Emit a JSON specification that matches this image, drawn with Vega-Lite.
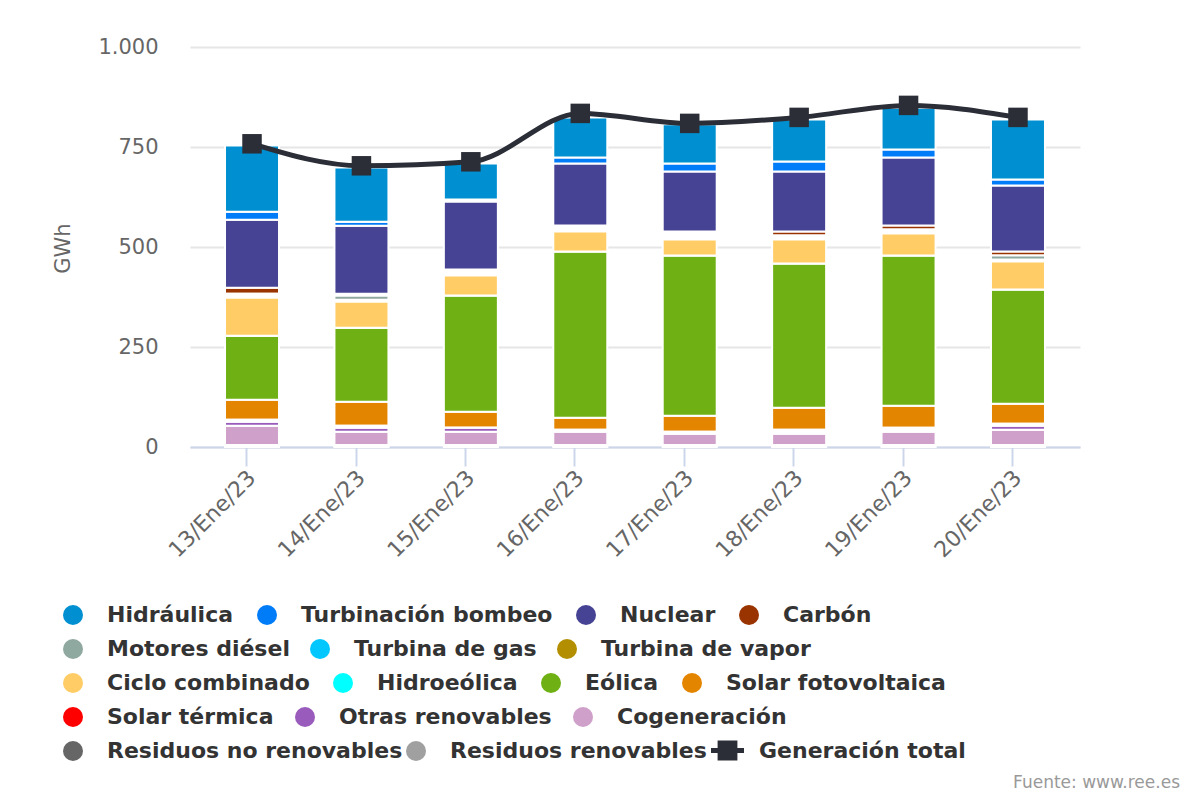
{
  "$schema": "https://vega.github.io/schema/vega-lite/v6.json",
  "width": 890,
  "height": 400,
  "autosize": {"type": "none"},
  "padding": {"left": 190, "top": 47, "right": 120, "bottom": 353},
  "background": "white",
  "config": {
    "font": "DejaVu Sans",
    "view": {"stroke": null},
    "axisY": {
      "titleFontSize": 21,
      "titleFontWeight": "normal",
      "titleColor": "#666666"
    },
    "legend": {
      "title": null,
      "orient": "none",
      "direction": "horizontal",
      "symbolType": "circle",
      "symbolSize": 400,
      "symbolStrokeWidth": 0,
      "symbolOpacity": 1,
      "labelFontSize": 22,
      "labelFontWeight": "bold",
      "labelColor": "#333333",
      "labelOffset": 23,
      "labelLimit": 400,
      "columnPadding": 22
    }
  },
  "title": {
    "text": "Fuente: www.ree.es",
    "orient": "bottom",
    "anchor": "end",
    "frame": "group",
    "dx": 100,
    "offset": 13,
    "fontSize": 17,
    "fontWeight": "normal",
    "color": "#999999"
  },
  "datasets": {
    "gen": [
      {"fecha": "13/Ene/23", "fuente": "Residuos renovables", "gwh": 2},
      {"fecha": "13/Ene/23", "fuente": "Residuos no renovables", "gwh": 3},
      {"fecha": "13/Ene/23", "fuente": "Cogeneración", "gwh": 48},
      {"fecha": "13/Ene/23", "fuente": "Otras renovables", "gwh": 10},
      {"fecha": "13/Ene/23", "fuente": "Solar térmica", "gwh": 5},
      {"fecha": "13/Ene/23", "fuente": "Solar fotovoltaica", "gwh": 50},
      {"fecha": "13/Ene/23", "fuente": "Eólica", "gwh": 160},
      {"fecha": "13/Ene/23", "fuente": "Hidroeólica", "gwh": 0},
      {"fecha": "13/Ene/23", "fuente": "Ciclo combinado", "gwh": 95},
      {"fecha": "13/Ene/23", "fuente": "Turbina de vapor", "gwh": 4},
      {"fecha": "13/Ene/23", "fuente": "Turbina de gas", "gwh": 2},
      {"fecha": "13/Ene/23", "fuente": "Motores diésel", "gwh": 4},
      {"fecha": "13/Ene/23", "fuente": "Carbón", "gwh": 15},
      {"fecha": "13/Ene/23", "fuente": "Nuclear", "gwh": 170},
      {"fecha": "13/Ene/23", "fuente": "Turbinación bombeo", "gwh": 20},
      {"fecha": "13/Ene/23", "fuente": "Hidráulica", "gwh": 166},

      {"fecha": "14/Ene/23", "fuente": "Residuos renovables", "gwh": 2},
      {"fecha": "14/Ene/23", "fuente": "Residuos no renovables", "gwh": 3},
      {"fecha": "14/Ene/23", "fuente": "Cogeneración", "gwh": 33},
      {"fecha": "14/Ene/23", "fuente": "Otras renovables", "gwh": 10},
      {"fecha": "14/Ene/23", "fuente": "Solar térmica", "gwh": 5},
      {"fecha": "14/Ene/23", "fuente": "Solar fotovoltaica", "gwh": 60},
      {"fecha": "14/Ene/23", "fuente": "Eólica", "gwh": 185},
      {"fecha": "14/Ene/23", "fuente": "Hidroeólica", "gwh": 0},
      {"fecha": "14/Ene/23", "fuente": "Ciclo combinado", "gwh": 65},
      {"fecha": "14/Ene/23", "fuente": "Turbina de vapor", "gwh": 3},
      {"fecha": "14/Ene/23", "fuente": "Turbina de gas", "gwh": 2},
      {"fecha": "14/Ene/23", "fuente": "Motores diésel", "gwh": 10},
      {"fecha": "14/Ene/23", "fuente": "Carbón", "gwh": 5},
      {"fecha": "14/Ene/23", "fuente": "Nuclear", "gwh": 170},
      {"fecha": "14/Ene/23", "fuente": "Turbinación bombeo", "gwh": 10},
      {"fecha": "14/Ene/23", "fuente": "Hidráulica", "gwh": 136},

      {"fecha": "15/Ene/23", "fuente": "Residuos renovables", "gwh": 2},
      {"fecha": "15/Ene/23", "fuente": "Residuos no renovables", "gwh": 3},
      {"fecha": "15/Ene/23", "fuente": "Cogeneración", "gwh": 33},
      {"fecha": "15/Ene/23", "fuente": "Otras renovables", "gwh": 10},
      {"fecha": "15/Ene/23", "fuente": "Solar térmica", "gwh": 0},
      {"fecha": "15/Ene/23", "fuente": "Solar fotovoltaica", "gwh": 40},
      {"fecha": "15/Ene/23", "fuente": "Eólica", "gwh": 291},
      {"fecha": "15/Ene/23", "fuente": "Hidroeólica", "gwh": 0},
      {"fecha": "15/Ene/23", "fuente": "Ciclo combinado", "gwh": 50},
      {"fecha": "15/Ene/23", "fuente": "Turbina de vapor", "gwh": 4},
      {"fecha": "15/Ene/23", "fuente": "Turbina de gas", "gwh": 1},
      {"fecha": "15/Ene/23", "fuente": "Motores diésel", "gwh": 5},
      {"fecha": "15/Ene/23", "fuente": "Carbón", "gwh": 5},
      {"fecha": "15/Ene/23", "fuente": "Nuclear", "gwh": 170},
      {"fecha": "15/Ene/23", "fuente": "Turbinación bombeo", "gwh": 5},
      {"fecha": "15/Ene/23", "fuente": "Hidráulica", "gwh": 90},

      {"fecha": "16/Ene/23", "fuente": "Residuos renovables", "gwh": 2},
      {"fecha": "16/Ene/23", "fuente": "Residuos no renovables", "gwh": 3},
      {"fecha": "16/Ene/23", "fuente": "Cogeneración", "gwh": 33},
      {"fecha": "16/Ene/23", "fuente": "Otras renovables", "gwh": 3},
      {"fecha": "16/Ene/23", "fuente": "Solar térmica", "gwh": 2},
      {"fecha": "16/Ene/23", "fuente": "Solar fotovoltaica", "gwh": 30},
      {"fecha": "16/Ene/23", "fuente": "Eólica", "gwh": 416},
      {"fecha": "16/Ene/23", "fuente": "Hidroeólica", "gwh": 0},
      {"fecha": "16/Ene/23", "fuente": "Ciclo combinado", "gwh": 50},
      {"fecha": "16/Ene/23", "fuente": "Turbina de vapor", "gwh": 4},
      {"fecha": "16/Ene/23", "fuente": "Turbina de gas", "gwh": 1},
      {"fecha": "16/Ene/23", "fuente": "Motores diésel", "gwh": 5},
      {"fecha": "16/Ene/23", "fuente": "Carbón", "gwh": 5},
      {"fecha": "16/Ene/23", "fuente": "Nuclear", "gwh": 155},
      {"fecha": "16/Ene/23", "fuente": "Turbinación bombeo", "gwh": 15},
      {"fecha": "16/Ene/23", "fuente": "Hidráulica", "gwh": 100},

      {"fecha": "17/Ene/23", "fuente": "Residuos renovables", "gwh": 2},
      {"fecha": "17/Ene/23", "fuente": "Residuos no renovables", "gwh": 3},
      {"fecha": "17/Ene/23", "fuente": "Cogeneración", "gwh": 28},
      {"fecha": "17/Ene/23", "fuente": "Otras renovables", "gwh": 3},
      {"fecha": "17/Ene/23", "fuente": "Solar térmica", "gwh": 2},
      {"fecha": "17/Ene/23", "fuente": "Solar fotovoltaica", "gwh": 40},
      {"fecha": "17/Ene/23", "fuente": "Eólica", "gwh": 401},
      {"fecha": "17/Ene/23", "fuente": "Hidroeólica", "gwh": 0},
      {"fecha": "17/Ene/23", "fuente": "Ciclo combinado", "gwh": 40},
      {"fecha": "17/Ene/23", "fuente": "Turbina de vapor", "gwh": 5},
      {"fecha": "17/Ene/23", "fuente": "Turbina de gas", "gwh": 5},
      {"fecha": "17/Ene/23", "fuente": "Motores diésel", "gwh": 5},
      {"fecha": "17/Ene/23", "fuente": "Carbón", "gwh": 5},
      {"fecha": "17/Ene/23", "fuente": "Nuclear", "gwh": 150},
      {"fecha": "17/Ene/23", "fuente": "Turbinación bombeo", "gwh": 20},
      {"fecha": "17/Ene/23", "fuente": "Hidráulica", "gwh": 98},

      {"fecha": "18/Ene/23", "fuente": "Residuos renovables", "gwh": 2},
      {"fecha": "18/Ene/23", "fuente": "Residuos no renovables", "gwh": 3},
      {"fecha": "18/Ene/23", "fuente": "Cogeneración", "gwh": 28},
      {"fecha": "18/Ene/23", "fuente": "Otras renovables", "gwh": 5},
      {"fecha": "18/Ene/23", "fuente": "Solar térmica", "gwh": 5},
      {"fecha": "18/Ene/23", "fuente": "Solar fotovoltaica", "gwh": 55},
      {"fecha": "18/Ene/23", "fuente": "Eólica", "gwh": 361},
      {"fecha": "18/Ene/23", "fuente": "Hidroeólica", "gwh": 0},
      {"fecha": "18/Ene/23", "fuente": "Ciclo combinado", "gwh": 60},
      {"fecha": "18/Ene/23", "fuente": "Turbina de vapor", "gwh": 4},
      {"fecha": "18/Ene/23", "fuente": "Turbina de gas", "gwh": 2},
      {"fecha": "18/Ene/23", "fuente": "Motores diésel", "gwh": 4},
      {"fecha": "18/Ene/23", "fuente": "Carbón", "gwh": 10},
      {"fecha": "18/Ene/23", "fuente": "Nuclear", "gwh": 150},
      {"fecha": "18/Ene/23", "fuente": "Turbinación bombeo", "gwh": 25},
      {"fecha": "18/Ene/23", "fuente": "Hidráulica", "gwh": 105},

      {"fecha": "19/Ene/23", "fuente": "Residuos renovables", "gwh": 2},
      {"fecha": "19/Ene/23", "fuente": "Residuos no renovables", "gwh": 3},
      {"fecha": "19/Ene/23", "fuente": "Cogeneración", "gwh": 33},
      {"fecha": "19/Ene/23", "fuente": "Otras renovables", "gwh": 5},
      {"fecha": "19/Ene/23", "fuente": "Solar térmica", "gwh": 5},
      {"fecha": "19/Ene/23", "fuente": "Solar fotovoltaica", "gwh": 55},
      {"fecha": "19/Ene/23", "fuente": "Eólica", "gwh": 376},
      {"fecha": "19/Ene/23", "fuente": "Hidroeólica", "gwh": 0},
      {"fecha": "19/Ene/23", "fuente": "Ciclo combinado", "gwh": 55},
      {"fecha": "19/Ene/23", "fuente": "Turbina de vapor", "gwh": 4},
      {"fecha": "19/Ene/23", "fuente": "Turbina de gas", "gwh": 2},
      {"fecha": "19/Ene/23", "fuente": "Motores diésel", "gwh": 4},
      {"fecha": "19/Ene/23", "fuente": "Carbón", "gwh": 10},
      {"fecha": "19/Ene/23", "fuente": "Nuclear", "gwh": 170},
      {"fecha": "19/Ene/23", "fuente": "Turbinación bombeo", "gwh": 20},
      {"fecha": "19/Ene/23", "fuente": "Hidráulica", "gwh": 104},

      {"fecha": "20/Ene/23", "fuente": "Residuos renovables", "gwh": 2},
      {"fecha": "20/Ene/23", "fuente": "Residuos no renovables", "gwh": 3},
      {"fecha": "20/Ene/23", "fuente": "Cogeneración", "gwh": 38},
      {"fecha": "20/Ene/23", "fuente": "Otras renovables", "gwh": 10},
      {"fecha": "20/Ene/23", "fuente": "Solar térmica", "gwh": 5},
      {"fecha": "20/Ene/23", "fuente": "Solar fotovoltaica", "gwh": 50},
      {"fecha": "20/Ene/23", "fuente": "Eólica", "gwh": 286},
      {"fecha": "20/Ene/23", "fuente": "Hidroeólica", "gwh": 0},
      {"fecha": "20/Ene/23", "fuente": "Ciclo combinado", "gwh": 70},
      {"fecha": "20/Ene/23", "fuente": "Turbina de vapor", "gwh": 3},
      {"fecha": "20/Ene/23", "fuente": "Turbina de gas", "gwh": 2},
      {"fecha": "20/Ene/23", "fuente": "Motores diésel", "gwh": 10},
      {"fecha": "20/Ene/23", "fuente": "Carbón", "gwh": 10},
      {"fecha": "20/Ene/23", "fuente": "Nuclear", "gwh": 165},
      {"fecha": "20/Ene/23", "fuente": "Turbinación bombeo", "gwh": 15},
      {"fecha": "20/Ene/23", "fuente": "Hidráulica", "gwh": 150}
    ],
    "total": [
      {"fecha": "13/Ene/23", "gwh": 758},
      {"fecha": "14/Ene/23", "gwh": 703},
      {"fecha": "15/Ene/23", "gwh": 713},
      {"fecha": "16/Ene/23", "gwh": 834},
      {"fecha": "17/Ene/23", "gwh": 809},
      {"fecha": "18/Ene/23", "gwh": 824},
      {"fecha": "19/Ene/23", "gwh": 854},
      {"fecha": "20/Ene/23", "gwh": 824}
    ]
  },
  "encoding": {
    "x": {
      "field": "fecha",
      "type": "nominal",
      "scale": {
        "type": "band",
        "domain": ["13/Ene/23", "14/Ene/23", "15/Ene/23", "16/Ene/23", "17/Ene/23", "18/Ene/23", "19/Ene/23", "20/Ene/23"],
        "paddingInner": 0.5065,
        "paddingOuter": 0.32
      },
      "axis": {
        "title": null,
        "labelAngle": -45,
        "labelAlign": "right",
        "labelBaseline": "middle",
        "labelFontSize": 22,
        "labelColor": "#666666",
        "labelPadding": 8,
        "labelDx": -12,
        "labelDy": -2,
        "domainColor": "#ccd6eb",
        "domainWidth": 2,
        "tickColor": "#ccd6eb",
        "tickWidth": 2,
        "tickSize": 19,
        "bandPosition": 0.4,
        "grid": false
      }
    }
  },
  "resolve": {"scale": {"color": "independent"}},
  "layer": [
    {
      "data": {"name": "gen"},
      "transform": [
        {"calculate": "indexof(['Residuos renovables','Residuos no renovables','Cogeneración','Otras renovables','Solar térmica','Solar fotovoltaica','Eólica','Hidroeólica','Ciclo combinado','Turbina de vapor','Turbina de gas','Motores diésel','Carbón','Nuclear','Turbinación bombeo','Hidráulica'], datum.fuente)", "as": "orden"},
        {"stack": "gwh", "groupby": ["fecha"], "sort": [{"field": "orden", "order": "ascending"}], "as": ["y0", "y1"]},
        {"filter": {"field": "fuente", "oneOf": ["Hidráulica", "Turbinación bombeo", "Nuclear", "Carbón"]}}
      ],
      "mark": {"type": "bar", "stroke": "white", "strokeWidth": 2},
      "encoding": {
        "y": {
          "field": "y0",
          "type": "quantitative",
          "title": "GWh",
          "scale": {"domain": [0, 1000], "nice": false},
          "axis": {
            "values": [0, 250, 500, 750, 1000],
            "labelExpr": "replace(datum.label, ',', '.')",
            "labelFontSize": 21,
            "labelColor": "#666666",
            "labelPadding": 32,
            "ticks": false,
            "domain": false,
            "gridColor": "#e6e6e6",
            "gridWidth": 2,
            "titleFontSize": 21,
            "titleAngle": -90,
            "titleX": -127,
            "titleY": 201,
            "titleAlign": "center",
            "titleBaseline": "middle"
          }
        },
        "y2": {"field": "y1"},
        "color": {
          "field": "fuente",
          "type": "nominal",
          "scale": {
            "domain": ["Hidráulica", "Turbinación bombeo", "Nuclear", "Carbón"],
            "range": ["#0090d1", "#007cf9", "#464394", "#993300"]
          },
          "legend": {"legendX": -128, "legendY": 557, "columnPadding": 22}
        }
      }
    },
    {
      "data": {"name": "gen"},
      "transform": [
        {"calculate": "indexof(['Residuos renovables','Residuos no renovables','Cogeneración','Otras renovables','Solar térmica','Solar fotovoltaica','Eólica','Hidroeólica','Ciclo combinado','Turbina de vapor','Turbina de gas','Motores diésel','Carbón','Nuclear','Turbinación bombeo','Hidráulica'], datum.fuente)", "as": "orden"},
        {"stack": "gwh", "groupby": ["fecha"], "sort": [{"field": "orden", "order": "ascending"}], "as": ["y0", "y1"]},
        {"filter": {"field": "fuente", "oneOf": ["Motores diésel", "Turbina de gas", "Turbina de vapor"]}}
      ],
      "mark": {"type": "bar", "stroke": "white", "strokeWidth": 2},
      "encoding": {
        "y": {"field": "y0", "type": "quantitative"},
        "y2": {"field": "y1"},
        "color": {
          "field": "fuente",
          "type": "nominal",
          "scale": {
            "domain": ["Motores diésel", "Turbina de gas", "Turbina de vapor"],
            "range": ["#8fa8a0", "#00c8ff", "#b38f00"]
          },
          "legend": {"legendX": -128, "legendY": 591, "columnPadding": 19}
        }
      }
    },
    {
      "data": {"name": "gen"},
      "transform": [
        {"calculate": "indexof(['Residuos renovables','Residuos no renovables','Cogeneración','Otras renovables','Solar térmica','Solar fotovoltaica','Eólica','Hidroeólica','Ciclo combinado','Turbina de vapor','Turbina de gas','Motores diésel','Carbón','Nuclear','Turbinación bombeo','Hidráulica'], datum.fuente)", "as": "orden"},
        {"stack": "gwh", "groupby": ["fecha"], "sort": [{"field": "orden", "order": "ascending"}], "as": ["y0", "y1"]},
        {"filter": {"field": "fuente", "oneOf": ["Ciclo combinado", "Hidroeólica", "Eólica", "Solar fotovoltaica"]}}
      ],
      "mark": {"type": "bar", "stroke": "white", "strokeWidth": 2},
      "encoding": {
        "y": {"field": "y0", "type": "quantitative"},
        "y2": {"field": "y1"},
        "color": {
          "field": "fuente",
          "type": "nominal",
          "scale": {
            "domain": ["Ciclo combinado", "Hidroeólica", "Eólica", "Solar fotovoltaica"],
            "range": ["#ffcc66", "#00ffff", "#6fb114", "#e48500"]
          },
          "legend": {"legendX": -128, "legendY": 625, "columnPadding": 22}
        }
      }
    },
    {
      "data": {"name": "gen"},
      "transform": [
        {"calculate": "indexof(['Residuos renovables','Residuos no renovables','Cogeneración','Otras renovables','Solar térmica','Solar fotovoltaica','Eólica','Hidroeólica','Ciclo combinado','Turbina de vapor','Turbina de gas','Motores diésel','Carbón','Nuclear','Turbinación bombeo','Hidráulica'], datum.fuente)", "as": "orden"},
        {"stack": "gwh", "groupby": ["fecha"], "sort": [{"field": "orden", "order": "ascending"}], "as": ["y0", "y1"]},
        {"filter": {"field": "fuente", "oneOf": ["Solar térmica", "Otras renovables", "Cogeneración"]}}
      ],
      "mark": {"type": "bar", "stroke": "white", "strokeWidth": 2},
      "encoding": {
        "y": {"field": "y0", "type": "quantitative"},
        "y2": {"field": "y1"},
        "color": {
          "field": "fuente",
          "type": "nominal",
          "scale": {
            "domain": ["Solar térmica", "Otras renovables", "Cogeneración"],
            "range": ["#ff0000", "#9a5cbc", "#cfa0c9"]
          },
          "legend": {"legendX": -128, "legendY": 659, "columnPadding": 20}
        }
      }
    },
    {
      "data": {"name": "gen"},
      "transform": [
        {"calculate": "indexof(['Residuos renovables','Residuos no renovables','Cogeneración','Otras renovables','Solar térmica','Solar fotovoltaica','Eólica','Hidroeólica','Ciclo combinado','Turbina de vapor','Turbina de gas','Motores diésel','Carbón','Nuclear','Turbinación bombeo','Hidráulica'], datum.fuente)", "as": "orden"},
        {"stack": "gwh", "groupby": ["fecha"], "sort": [{"field": "orden", "order": "ascending"}], "as": ["y0", "y1"]},
        {"filter": {"field": "fuente", "oneOf": ["Residuos no renovables", "Residuos renovables"]}}
      ],
      "mark": {"type": "bar", "stroke": "white", "strokeWidth": 2},
      "encoding": {
        "y": {"field": "y0", "type": "quantitative"},
        "y2": {"field": "y1"},
        "color": {
          "field": "fuente",
          "type": "nominal",
          "scale": {
            "domain": ["Residuos no renovables", "Residuos renovables"],
            "range": ["#666666", "#a0a0a0"]
          },
          "legend": {"legendX": -128, "legendY": 693, "columnPadding": 2}
        }
      }
    },
    {
      "data": {"name": "total"},
      "mark": {"type": "line", "color": "#2b2e37", "strokeWidth": 5, "interpolate": "monotone"},
      "encoding": {
        "y": {"field": "gwh", "type": "quantitative"}
      }
    },
    {
      "data": {"name": "total"},
      "mark": {"type": "point", "shape": "square", "filled": true, "opacity": 1, "size": 380},
      "encoding": {
        "y": {"field": "gwh", "type": "quantitative"},
        "color": {
          "datum": "Generación total",
          "type": "nominal",
          "scale": {"domain": ["Generación total"], "range": ["#2b2e37"]},
          "legend": {
            "legendX": 521,
            "legendY": 687,
            "symbolType": "M-1,-0.15H1V0.15H-1Z M-0.6,-0.6H0.6V0.6H-0.6Z",
            "symbolSize": 1089,
            "labelOffset": 15
          }
        }
      }
    }
  ]
}
